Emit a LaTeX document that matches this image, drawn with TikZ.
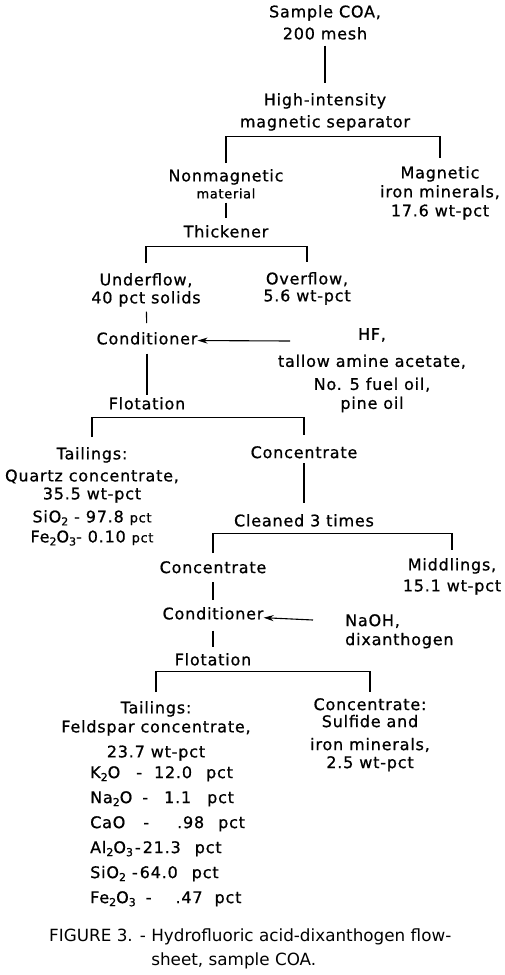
\documentclass[tikz,border=0pt]{standalone}
\usepackage{fontspec}
\setmainfont{DejaVu Sans}[LetterSpace=5,FakeBold=0.8]
\newfontfamily\capfont{DejaVu Sans}
\usetikzlibrary{arrows.meta}
\newcommand{\chemsub}[1]{\raisebox{-0.35ex}{\fontsize{11}{11}\selectfont #1}}
\newcommand{\smallpct}{{\fontsize{13}{13}\selectfont pct}}

\begin{document}
\begin{tikzpicture}[x=1pt,y=-1pt,
    every node/.style={inner sep=0pt,text depth=4pt,anchor=north,align=center,font=\fontsize{16}{20}\selectfont},
    lsp/.style={font=\fontsize{16}{#1}\selectfont},
    flow/.style={draw,line width=1.1pt},
    feed/.style={flow,-{Stealth[length=10pt,width=6pt]}}]

\useasboundingbox (0,0) rectangle (504,975);

\node (n1) at (325,5)   [lsp=22] {Sample COA,\\200 mesh};
\node (n2) at (325,93)  [lsp=22] {High-intensity\\magnetic separator};
\node (n3) at (226,169) [lsp=17] {Nonmagnetic\\{\fontsize{13}{13}\selectfont material}};
\node (n4) at (440,166) [lsp=19] {Magnetic\\iron minerals,\\17.6 wt-pct};
\node (n5) at (226,225)          {Thickener};
\node (n6) at (146,273) [lsp=18] {Underflow,\\40 pct solids};
\node (n7) at (307,272) [lsp=17] {Overflow,\\5.6 wt-pct};
\node (n8) at (147,332)          {Conditioner};
\node (n9) at (372,328) [lsp=19] {HF,\\[8pt]tallow amine acetate,\\[4pt]No. 5 fuel oil,\\pine oil};
\node (n10) at (147,397)         {Flotation};
\node (n11) at (92,447) [lsp=20] {Tailings:\\[2pt]Quartz concentrate,\\[-2pt]35.5 wt-pct\\[3pt]SiO\chemsub{2} - 97.8 \smallpct\\Fe\chemsub{2}O\chemsub{3}- 0.10 \smallpct};
\node (n12) at (304,446)         {Concentrate};
\node (n13) at (304,514)         {Cleaned 3 times};
\node (n14) at (213,561)         {Concentrate};
\node (n15) at (452,558) [lsp=21] {Middlings,\\15.1 wt-pct};
\node (n16) at (213,607)         {Conditioner};
\node (n17) at (345,614) [lsp=19,anchor=north west,align=left] {NaOH,\\dixanthogen};
\node (n18) at (213,653)         {Flotation};
\node (n19) at (156,701) [lsp=19] {Tailings:\\Feldspar concentrate,\\[6pt]23.7 wt-pct};
\node (n20) at (90,766) [lsp=25,anchor=north west,align=left]
  {K\chemsub{2}O\hspace{16pt}-\hspace{12pt}12.0\hspace{14pt}pct\\
   Na\chemsub{2}O\hspace{10pt}-\hspace{16pt}1.1\hspace{16pt}pct\\
   CaO\hspace{18pt}-\hspace{28pt}.98\hspace{14pt}pct\\
   Al\chemsub{2}O\chemsub{3}\hspace{2pt}-\hspace{2pt}21.3\hspace{14pt}pct\\
   SiO\chemsub{2}\hspace{6pt}-\hspace{2pt}64.0\hspace{14pt}pct\\
   Fe\chemsub{2}O\chemsub{3}\hspace{10pt}-\hspace{24pt}.47\hspace{12pt}pct};
\node (n21) at (370,698) [lsp=18] {Concentrate:\\[-1pt]Sulfide and\\[5pt]iron minerals,\\2.5 wt-pct};
\node (n22) at (49,929) [anchor=north west,align=left,font=\capfont\fontsize{16.8}{24}\selectfont]
  {FIGURE 3. - Hydrofluoric acid-dixanthogen flow-\\\phantom{FIGURE 3. - }sheet, sample COA.};

\coordinate (a1) at (290,341);
\coordinate (a2) at (313,620);

\path[flow]
    (n1)  edge[shorten <=2pt,shorten >=10pt] (n2)
    (n3)  edge[shorten >=7pt] (n5)
    (n6)  edge[shorten <=4pt,shorten >=9pt] (n8)
    (n8)  edge[shorten <=5pt,shorten >=2pt] (n10)
    (n12) edge[shorten <=1pt,shorten >=11pt] (n13)
    (n14) edge[shorten <=5pt,shorten >=7pt] (n16)
    (n16) edge[shorten <=7pt,shorten >=6pt] (n18);

\draw[flow] ([yshift=6pt]n3.north) |- ([yshift=-5pt]n2.south) -| ([yshift=8pt]n4.north);
\draw[flow] ([yshift=10pt]n6.north) |- ([yshift=-5pt]n5.south) -| ([yshift=10pt]n7.north);
\draw[flow] ([yshift=10pt]n11.north) |- ([yshift=-4pt]n10.south) -| ([yshift=11pt]n12.north);
\draw[flow] ([yshift=8pt]n14.north) |- ([yshift=-3pt]n13.south) -| ([yshift=8pt]n15.north);
\draw[flow] ([yshift=9pt]n19.north) |- ([yshift=-2pt]n18.south) -| ([yshift=6pt]n21.north);

\draw[feed] (a1) -- (n8);
\draw[feed] (a2) -- (n16);
\end{tikzpicture}
\end{document}
